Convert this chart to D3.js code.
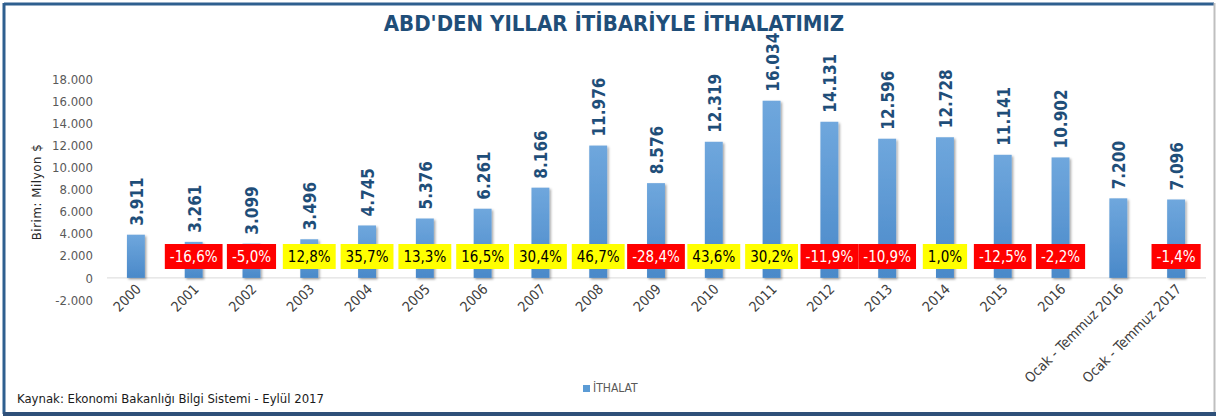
<!DOCTYPE html>
<html>
	<head>
	<meta charset="utf-8">
	<title>ABD'den yıllar itibariyle ithalatımız</title>
		<style type="text/css">
			body{
				margin: 0;
				background-color: white;
			}
			text{
				font-family: "Liberation Sans Narrow", "DejaVu Sans Condensed", "Open Sans", sans-serif;
			}
		</style>
	</head>
	<body>
		<div id='chart'></div>
		<script src="https://d3js.org/d3.v7.min.js"></script>
		<script>
			var years = ["2000","2001","2002","2003","2004","2005","2006","2007","2008","2009","2010","2011","2012","2013","2014","2015","2016","Ocak - Temmuz 2016","Ocak - Temmuz 2017"];
			var imports = [3911, 3261, 3099, 3496, 4745, 5376, 6261, 8166, 11976, 8576, 12319, 16034, 14131, 12596, 12728, 11141, 10902, 7200, 7096];
			// yearly change in %, null where there is no box
			var changes = [null, -16.6, -5.0, 12.8, 35.7, 13.3, 16.5, 30.4, 46.7, -28.4, 43.6, 30.2, -11.9, -10.9, 1.0, -12.5, -2.2, null, -1.4];
			var yTicks = [-2000, 0, 2000, 4000, 6000, 8000, 10000, 12000, 14000, 16000, 18000];

			var W = 1216, H = 416;
			var barColor = '#5b9bd5';
			var titleColor = '#1f4e79';
			var labelColor = '#1f4e79';

			var tr = d3.formatLocale({decimal: ",", thousands: ".", grouping: [3], currency: ["", ""], minus: "-"});
			var fmtNum = tr.format(",d");
			var fmtPct = tr.format(".1f");

			var svg = d3.select('#chart').append('svg').attr('width', W).attr('height', H);

			var defs = svg.append('defs');
			var grad = defs.append('linearGradient').attr('id', 'barGrad')
				.attr('x1', 0).attr('y1', 0).attr('x2', 0).attr('y2', 1);
			grad.append('stop').attr('offset', '0%').attr('stop-color', '#6fa7dd');
			grad.append('stop').attr('offset', '100%').attr('stop-color', '#4a89c9');
			var shadow = defs.append('filter').attr('id', 'shadow')
				.attr('x', '-30%').attr('y', '-10%').attr('width', '160%').attr('height', '130%');
			shadow.append('feDropShadow').attr('dx', 1.5).attr('dy', 1.5).attr('stdDeviation', 1.2)
				.attr('flood-color', '#000').attr('flood-opacity', 0.35);

			// frame
			svg.append('line').attr('x1', 4).attr('y1', 4).attr('x2', 1214).attr('y2', 4)
				.attr('stroke', '#2e5f8f').attr('stroke-width', 3);
			svg.append('line').attr('x1', 4).attr('y1', 3).attr('x2', 4).attr('y2', 414)
				.attr('stroke', '#2e5f8f').attr('stroke-width', 3);
			svg.append('line').attr('x1', 3).attr('y1', 414).attr('x2', 1216).attr('y2', 414)
				.attr('stroke', '#2e5079').attr('stroke-width', 4);
			svg.append('line').attr('x1', 1214.5).attr('y1', 3).attr('x2', 1214.5).attr('y2', 412)
				.attr('stroke', '#bfbfbf').attr('stroke-width', 2);

			var x = d3.scaleBand()
				.domain(years)
				.range([107, 1205])
				.paddingInner(0.69)
				.paddingOuter(0.345);

			var y = d3.scaleLinear()
				.domain([-2000, 18000])
				.range([300, 79]);

			// title
			svg.append('text')
				.attr('x', 614).attr('y', 31)
				.attr('text-anchor', 'middle')
				.attr('fill', titleColor)
				.style('font-size', '22px')
				.style('font-weight', 'bold')
				.text("ABD'DEN YILLAR İTİBARİYLE İTHALATIMIZ");

			// y axis (labels only)
			var yAxis = d3.axisLeft(y).tickValues(yTicks).tickSize(0).tickPadding(0)
				.tickFormat(function(d){ return fmtNum(d); });
			var yg = svg.append('g').attr('transform', 'translate(93,0)').call(yAxis);
			yg.select('.domain').remove();
			yg.selectAll('text')
				.attr('fill', '#595959')
				.style('font-size', '13px')
				.style('font-family', null);

			svg.append('text')
				.attr('transform', 'translate(41,192) rotate(-90)')
				.attr('text-anchor', 'middle')
				.attr('fill', '#262626')
				.style('font-size', '13px')
				.style('letter-spacing', '0.6px')
				.text('Birim: Milyon $');

			// zero line
			svg.append('line')
				.attr('x1', 107).attr('x2', 1206)
				.attr('y1', y(0)).attr('y2', y(0))
				.attr('stroke', '#d9d9d9').attr('stroke-width', 1);

			// bars
			svg.selectAll('.bar')
				.data(imports)
				.enter().append('rect')
				.attr('class', 'bar')
				.attr('x', function(d, i){ return x(years[i]); })
				.attr('width', x.bandwidth())
				.attr('y', function(d){ return y(d); })
				.attr('height', function(d){ return y(0) - y(d); })
				.attr('fill', 'url(#barGrad)')
				.attr('filter', 'url(#shadow)');

			// value labels
			svg.selectAll('.val')
				.data(imports)
				.enter().append('text')
				.attr('class', 'val')
				.attr('transform', function(d, i){
					return 'translate(' + (x(years[i]) + x.bandwidth() / 2 + 1) + ',' + (y(d) - 9) + ') rotate(-90)';
				})
				.attr('dy', '0.35em')
				.attr('fill', labelColor)
				.style('font-size', '17px')
				.style('font-weight', 'bold')
				.text(function(d){ return fmtNum(d); });

			// change boxes
			var boxes = svg.selectAll('.chg')
				.data(changes)
				.enter().append('g')
				.attr('class', 'chg')
				.filter(function(d){ return d !== null; })
				.attr('transform', function(d, i){
					return 'translate(' + (x(years[changes.indexOf(d)]) + x.bandwidth() / 2) + ',0)';
				});
			boxes.each(function(d){
				var g = d3.select(this);
				var neg = d < 0;
				var t = g.append('text')
					.attr('x', 0).attr('y', 257)
					.attr('dy', '0.36em')
					.attr('text-anchor', 'middle')
					.attr('fill', neg ? 'white' : 'black')
					.style('font-size', '15px')
					.text(fmtPct(d) + '%');
				var w = t.node().getComputedTextLength() + 10;
				g.insert('rect', 'text')
					.attr('x', -w / 2).attr('y', 244)
					.attr('width', w).attr('height', 25)
					.attr('fill', neg ? '#ff0000' : '#ffff00');
			});

			// x labels
			svg.selectAll('.xl')
				.data(years)
				.enter().append('text')
				.attr('class', 'xl')
				.attr('transform', function(d){
					return 'translate(' + (x(d) + x.bandwidth() / 2 + 6) + ',290) rotate(-45)';
				})
				.attr('text-anchor', 'end')
				.attr('fill', '#404040')
				.style('font-size', '14px')
				.text(function(d){ return d; });

			// legend
			svg.append('rect').attr('x', 583).attr('y', 385).attr('width', 7).attr('height', 7).attr('fill', barColor);
			svg.append('text').attr('x', 593).attr('y', 392)
				.attr('fill', '#595959')
				.style('font-size', '12px')
				.text('İTHALAT');

			// source
			svg.append('text').attr('x', 17).attr('y', 403)
				.attr('fill', '#1a1a1a')
				.style('font-size', '13px')
				.text('Kaynak: Ekonomi Bakanlığı Bilgi Sistemi - Eylül 2017');
		</script>
	</body>
</html>
